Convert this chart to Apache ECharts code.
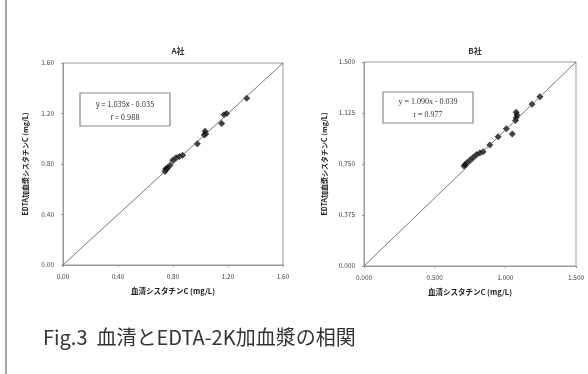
<!DOCTYPE html>
<html><head><meta charset="utf-8">
<script src="https://cdn.jsdelivr.net/npm/echarts@6/dist/echarts.min.js"></script>
<style>html,body{margin:0;padding:0;background:#fff}#c{width:588px;height:374px}</style>
</head><body><div id="c"></div>
<script>
// ---- data ----
const titleA = 'A社';
const titleB = 'B社';
const xName = '血清シスタチンC (mg/L)';
const yName = 'EDTA加血漿シスタチンC (mg/L)';
const caption = 'Fig.3  血清とEDTA-2K加血漿の相関';
const eqA = ['y = 1.035x - 0.035', 'r = 0.988'];
const eqB = ['y = 1.090x - 0.039', 'r = 0.977'];
const ticksA = [0, 0.4, 0.8, 1.2, 1.6];
const ticksBx = [0, 0.5, 1.0, 1.5];
const ticksBy = [0, 0.375, 0.75, 1.125, 1.5];
const serumA  = [1.336,1.171,1.190,1.154,1.033,1.038,1.027,0.977,0.870,0.846,0.822,0.798,0.761,0.747,0.742,0.754,0.779];
const plasmaA = [1.32, 1.19, 1.20, 1.12, 1.06, 1.04, 1.03, 0.96, 0.87, 0.86, 0.85, 0.83, 0.77, 0.76, 0.74, 0.76, 0.79];
const serumB  = [1.245,1.189,1.077,1.082,1.077,1.072,1.049,1.007,0.949,0.890,0.843,0.820,0.797,0.773,0.750,0.727,0.715,0.708];
const plasmaB = [1.245,1.19, 1.13, 1.11, 1.09, 1.07, 0.97, 1.01, 0.95, 0.89, 0.84, 0.83, 0.82, 0.80, 0.78, 0.76, 0.745,0.735];

const font = '"Noto Sans CJK JP", "Noto Sans", sans-serif';
const zip = (a, b) => a.map((v, i) => [v, b[i]]);
const chart = echarts.init(document.getElementById('c'));

function xAxis(idx, ticks, dec) {
  return {
    gridIndex: idx, type: 'value', min: ticks[0], max: ticks[ticks.length - 1],
    interval: ticks[1] - ticks[0], name: xName, nameLocation: 'middle', nameGap: 22,
    nameTextStyle: { fontFamily: font, fontSize: 7.5, color: '#222', fontWeight: 'bold' },
    axisLine: { show: true, lineStyle: { color: '#999', width: 1 } },
    axisTick: { show: true, length: 2, lineStyle: { color: '#999' } },
    splitLine: { show: false },
    axisLabel: { fontFamily: font, fontSize: 6.5, color: '#444', margin: 8, formatter: v => v.toFixed(dec) }
  };
}
function yAxis(idx, ticks, dec, gap) {
  return {
    gridIndex: idx, type: 'value', min: ticks[0], max: ticks[ticks.length - 1],
    interval: ticks[1] - ticks[0], name: yName, nameLocation: 'middle', nameGap: gap,
    nameTextStyle: { fontFamily: font, fontSize: 7, color: '#222', fontWeight: 'bold' },
    axisLine: { show: true, lineStyle: { color: '#999', width: 1 } },
    axisTick: { show: true, length: 2, lineStyle: { color: '#999' } },
    splitLine: { show: false },
    axisLabel: { fontFamily: font, fontSize: 6.5, color: '#444', margin: 9, formatter: v => v.toFixed(dec) }
  };
}
function diag(ticks) { const m = ticks[ticks.length - 1]; return [[0, 0], [m, m]]; }

chart.setOption({
  animation: false,
  title: [
    { text: titleA, left: 173, top: 42, textAlign: 'center', textStyle: { fontFamily: font, fontSize: 8, fontWeight: 'bold', color: '#333' } },
    { text: titleB, left: 470, top: 42, textAlign: 'center', textStyle: { fontFamily: font, fontSize: 8, fontWeight: 'bold', color: '#333' } }
  ],
  grid: [
    { left: 63, top: 63, width: 220, height: 202, show: true, borderColor: '#999', borderWidth: 1 },
    { left: 364, top: 62, width: 212, height: 204, show: true, borderColor: '#999', borderWidth: 1 }
  ],
  xAxis: [xAxis(0, ticksA, 2), xAxis(1, ticksBx, 3)],
  yAxis: [yAxis(0, ticksA, 2, 34), yAxis(1, ticksBy, 3, 36)],
  series: [
    { type: 'line', xAxisIndex: 0, yAxisIndex: 0, data: diag(ticksA), symbol: 'none', lineStyle: { color: '#555', width: 0.8 }, silent: true },
    { type: 'line', xAxisIndex: 1, yAxisIndex: 1, data: diag(ticksBx), symbol: 'none', lineStyle: { color: '#555', width: 0.8 }, silent: true },
    { type: 'scatter', xAxisIndex: 0, yAxisIndex: 0, data: zip(serumA, plasmaA), symbol: 'diamond', symbolSize: 7, itemStyle: { color: '#111' } },
    { type: 'scatter', xAxisIndex: 1, yAxisIndex: 1, data: zip(serumB, plasmaB), symbol: 'diamond', symbolSize: 7, itemStyle: { color: '#111' } }
  ],
  graphic: [
    { type: 'line', shape: { x1: 6, y1: 0, x2: 6, y2: 374 }, style: { stroke: '#888', lineWidth: 1.5 } },
    { type: 'rect', shape: { x: 80, y: 93, width: 90, height: 33 }, style: { fill: '#fff', stroke: '#888', lineWidth: 1.2 }, z: 10 },
    { type: 'text', x: 125, y: 104, style: { text: eqA[0], fill: '#333', font: '7.5px ' + font, textAlign: 'center', textVerticalAlign: 'middle' }, z: 11 },
    { type: 'text', x: 125, y: 117, style: { text: eqA[1], fill: '#333', font: '7.5px ' + font, textAlign: 'center', textVerticalAlign: 'middle' }, z: 11 },
    { type: 'rect', shape: { x: 383, y: 92, width: 90, height: 31 }, style: { fill: '#fff', stroke: '#888', lineWidth: 1.2 }, z: 10 },
    { type: 'text', x: 428, y: 102, style: { text: eqB[0], fill: '#333', font: '8px "Liberation Serif", serif', textAlign: 'center', textVerticalAlign: 'middle' }, z: 11 },
    { type: 'text', x: 428, y: 115, style: { text: eqB[1], fill: '#333', font: '8px "Liberation Serif", serif', textAlign: 'center', textVerticalAlign: 'middle' }, z: 11 },
    { type: 'text', x: 43, y: 337, style: { text: caption, fill: '#333', font: '20px ' + font, textVerticalAlign: 'middle' } }
  ]
});
</script></body></html>
